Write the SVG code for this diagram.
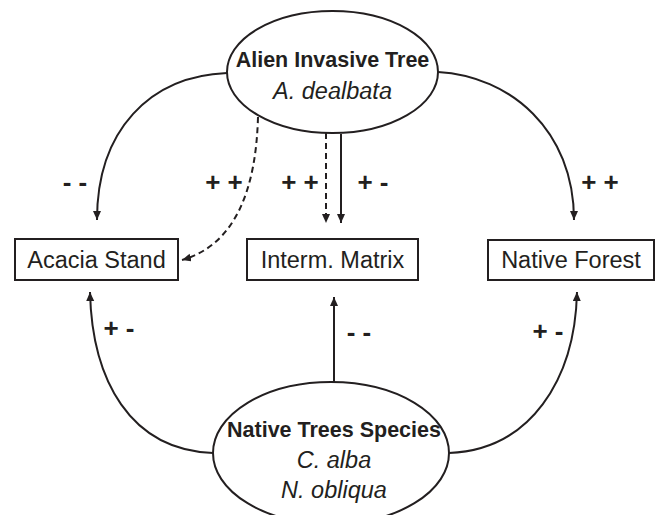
<svg xmlns="http://www.w3.org/2000/svg" width="659" height="515" viewBox="0 0 659 515">
<style>
.shape{fill:#fff;stroke:#231f20;stroke-width:2}
.box{font-family:"Liberation Sans",Arial,sans-serif;font-size:23.5px;fill:#231f20;text-anchor:middle}
.bold{font-family:"Liberation Sans",Arial,sans-serif;font-size:21.5px;font-weight:bold;fill:#231f20;text-anchor:middle}
.ital{font-family:"Liberation Sans",Arial,sans-serif;font-size:23.5px;font-style:italic;fill:#231f20;text-anchor:middle}
.lbl{font-family:"Liberation Sans",Arial,sans-serif;font-size:26px;font-weight:bold;fill:#231f20;text-anchor:middle}
.edge{fill:none;stroke:#231f20;stroke-width:2}
.dash{stroke-dasharray:6,4}
</style>
<defs>
<marker id="arr" markerUnits="userSpaceOnUse" markerWidth="10" markerHeight="9" refX="9" refY="4" orient="auto" viewBox="0 0 10 9">
<path d="M0,0 L9,4 L0,8 z" fill="#231f20"/>
</marker>
</defs>
<g id="connectors">
<path class="edge" d="M227,73 C150,76 97,130 97,220" marker-end="url(#arr)"/>
<path class="edge dash" d="M258,117 C256,190 235,245 182,260" marker-end="url(#arr)"/>
<path class="edge dash" d="M326,133 L326,223" marker-end="url(#arr)"/>
<path class="edge" d="M341,134 L341,223" marker-end="url(#arr)"/>
<path class="edge" d="M438,72 C510,76 574,130 574,220" marker-end="url(#arr)"/>
<path class="edge" d="M213,453 C130,450 92,380 90,292" marker-end="url(#arr)"/>
<path class="edge" d="M334,382 L334,297" marker-end="url(#arr)"/>
<path class="edge" d="M449,453 C530,450 575,380 577,292" marker-end="url(#arr)"/>
<text class="lbl" x="75" y="191">- -</text>
<text class="lbl" x="224" y="191">+ +</text>
<text class="lbl" x="300" y="191">+ +</text>
<text class="lbl" x="373" y="191">+ -</text>
<text class="lbl" x="600" y="191">+ +</text>
<text class="lbl" x="119" y="337">+ -</text>
<text class="lbl" x="359" y="341">- -</text>
<text class="lbl" x="548" y="340">+ -</text>
</g>
<g id="alien">
<ellipse class="shape" cx="332.5" cy="72" rx="105.5" ry="61"/>
<text class="bold" x="332.5" y="67">Alien Invasive Tree</text>
<text class="ital" x="332.5" y="99">A. dealbata</text>
</g>
<g id="acacia">
<rect class="shape" x="15" y="239" width="163" height="41"/>
<text class="box" x="96.5" y="268">Acacia Stand</text>
</g>
<g id="matrix">
<rect class="shape" x="247" y="239" width="171" height="41"/>
<text class="box" x="332.5" y="268">Interm. Matrix</text>
</g>
<g id="forest">
<rect class="shape" x="488" y="240" width="166" height="40"/>
<text class="box" x="571" y="268">Native Forest</text>
</g>
<g id="native">
<ellipse class="shape" cx="331" cy="453" rx="118" ry="71"/>
<text class="bold" x="334" y="437">Native Trees Species</text>
<text class="ital" x="334" y="468">C. alba</text>
<text class="ital" x="334" y="498">N. obliqua</text>
</g>
</svg>
